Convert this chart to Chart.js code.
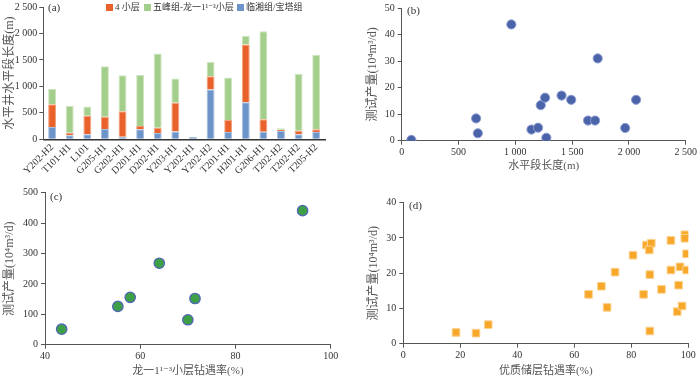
<!DOCTYPE html>
<html><head><meta charset="utf-8">
<script src="https://cdn.jsdelivr.net/npm/chart.js@4.4.1/dist/chart.umd.min.js"></script>
<style>
html,body{margin:0;padding:0;background:#fff;}
#wrap{position:relative;width:700px;height:378px;overflow:hidden;background:#fff;}
canvas{position:absolute;left:0;top:0;}
</style></head><body>
<div id="wrap">
<canvas id="ca" width="700" height="378"></canvas>
<canvas id="cb" width="700" height="378"></canvas>
<canvas id="cc" width="700" height="378"></canvas>
<canvas id="cd" width="700" height="378"></canvas>
</div>
<script>
// ---- data (a) ----
const wells = ['Y202-H2','T101-H1','L101','G205-H1','G202-H1','D201-H1','D202-H1','Y203-H1','Y202-H1','Y202-H2','T201-H1','H201-H1','G206-H1','T202-H2','T202-H2','T205-H2'];
const lenLinxiang = [232,75,94,194,49,189,119,147,45,940,138,700,143,157,94,138];
const len4 = [428,50,351,232,479,62,100,543,0,250,226,1090,234,24,68,51];
const lenWufeng = [290,505,175,954,682,964,1401,460,0,270,806,160,1663,26,1078,1411];
const seriesNames = ['临湘组/宝塔组','4 小层','五峰组-龙一1¹⁻³小层'];
// ---- data (b) ----
const bLength = [85,965,655,670,1142,1200,1224,1262,1273,1407,1492,1640,1702,1725,1967,2063];
const bYield  = [0.3,43.8,8.4,2.8,4.2,4.9,13.4,16.2,1.1,17.0,15.4,7.6,7.6,31.0,4.8,15.4];
// ---- data (c) ----
const cRate  = [43.5,55.3,57.9,64.0,70.0,71.5,94.1];
const cYield = [51,126,156,268,82,152,441];
// ---- data (d) ----
const dRate  = [18.5,25.5,29.8,65.0,69.5,71.5,74.3,80.6,84.3,85.3,87.0,86.3,86.5,86.5,90.6,93.9,93.9,96.6,97.1,96.1,97.8,98.8,98.8,99.4,99.4];
const dYield = [3.2,3.0,5.4,14.0,16.3,10.3,20.3,25.1,14.0,28.0,28.5,26.6,19.6,3.6,15.4,29.3,20.9,16.6,21.8,9.1,10.7,30.9,29.9,25.5,20.9];

const FONT = "'Liberation Serif','Noto Sans CJK SC','DejaVu Serif',serif";
const TICKC = '#333', TITLEC = '#555', AXC = '#555';

function fmt(v){ v = Math.round(v); if (v >= 1000) return Math.floor(v/1000) + ' ' + String(v%1000).padStart(3,'0'); return String(v); }

const panelTag = {
  id:'panelTag',
  afterDraw(chart, args, o){
    if(!o || !o.text) return;
    const ctx = chart.ctx; ctx.save();
    ctx.font = `11px ${FONT}`; ctx.fillStyle = '#333'; ctx.textBaseline = 'middle'; ctx.textAlign='left';
    ctx.fillText(o.text, chart.chartArea.left + o.dx, chart.chartArea.top + o.dy);
    ctx.restore();
  }
};
const barLegend = {
  id:'barLegend',
  afterDraw(chart, args, o){
    if(!o || !o.items) return;
    const ctx = chart.ctx; ctx.save();
    ctx.font = `${o.size}px ${FONT}`; ctx.textBaseline = 'middle'; ctx.textAlign='left';
    o.items.forEach(it => {
      const ds = chart.data.datasets[it.index];
      ctx.fillStyle = ds.backgroundColor; ctx.fillRect(it.x, o.y - 3.5, 7, 7);
      ctx.fillStyle = '#333'; ctx.fillText(ds.label, it.x + 9, o.y);
    });
    ctx.restore();
  }
};
Chart.register(panelTag, barLegend);

const tickFont = {family:FONT, size:10, lineHeight:1};
function axisGrid(){ return {drawOnChartArea:false, drawTicks:true, tickLength:4, color:AXC, lineWidth:1}; }
function axisBorder(){ return {display:true, color:AXC, width:1}; }
const base = {responsive:false, animation:false, devicePixelRatio:1, events:[]};

// ---- (a) stacked bars ----
new Chart(document.getElementById('ca'), {
  type:'bar',
  data:{labels:wells, datasets:[
    {label:seriesNames[0], data:lenLinxiang, backgroundColor:'#6C94C8', borderColor:'#A8C0E1', borderWidth:1},
    {label:seriesNames[1], data:len4, backgroundColor:'#EA622B', borderColor:'#F3A17C', borderWidth:1},
    {label:seriesNames[2], data:lenWufeng, backgroundColor:'#A4CE8B', borderColor:'#CCE5BC', borderWidth:1}
  ]},
  options:Object.assign({}, base, {
    layout:{padding:{left:0, top:6.7, right:375, bottom:188.7}},
    datasets:{bar:{categoryPercentage:1, barPercentage:0.45}},
    plugins:{legend:{display:false}, tooltip:{enabled:false},
      panelTag:{text:'(a)', dx:4.7, dy:1},
      barLegend:{size:9, y:7.5, items:[{index:1,x:106},{index:2,x:144},{index:0,x:237}]}},
    scales:{
      x:{stacked:true, grid:{display:false, drawTicks:false}, border:{display:true, color:'#333', width:1.5},
         ticks:{font:tickFont, color:TICKC, maxRotation:45, minRotation:45, padding:3, autoSkip:false},
         afterFit(s){ s.height = 50; }},
      y:{stacked:true, min:0, max:2500, grid:axisGrid(), border:axisBorder(),
         ticks:{stepSize:500, callback:fmt, font:tickFont, color:TICKC, padding:2},
         title:{display:true, text:'水平井水平段长度(m)', color:TITLEC, font:{family:FONT, size:12}, padding:{top:3, bottom:0}},
         afterFit(s){ s.width = 43.3; }}
    }
  })
});

function scatterChart(id, xs, ys, ds, o){
  return new Chart(document.getElementById(id), {
    type:'scatter',
    data:{datasets:[Object.assign({data:xs.map((x,i)=>({x:x, y:ys[i]}))}, ds)]},
    options:Object.assign({}, base, {
      layout:{padding:o.pad},
      plugins:{legend:{display:false}, tooltip:{enabled:false}, panelTag:o.tag},
      scales:{
        x:{type:'linear', min:o.x[0], max:o.x[1], grid:axisGrid(), border:axisBorder(),
           ticks:{stepSize:o.x[2], callback:fmt, font:tickFont, color:TICKC, padding:3},
           title:{display:true, text:o.xt, color:TITLEC, font:{family:FONT, size:11, lineHeight:1.2}, padding:{top:0, bottom:o.xtp}},
           afterFit(s){ s.height = o.xh; }},
        y:{type:'linear', min:o.y[0], max:o.y[1], grid:axisGrid(), border:axisBorder(),
           ticks:{stepSize:o.y[2], callback:fmt, font:tickFont, color:TICKC, padding:3},
           title:{display:true, text:o.yt, color:TITLEC, font:{family:FONT, size:12}, padding:{top:o.ytp, bottom:0}},
           afterFit(s){ s.width = o.yw; }}
      }
    })
  });
}

// ---- (b) ----
scatterChart('cb', bLength, bYield,
  {pointRadius:4.6, pointBackgroundColor:'#4B63A9', pointBorderColor:'#8E9ED2', pointBorderWidth:1},
  {pad:{left:350, top:5, right:12.3, bottom:202.3}, x:[0,2500,500], y:[0,50,10], xh:35, yw:51.7,
   xt:'水平段长度(m)', xtp:3.1, yt:'测试产量(10⁴m³/d)', ytp:16, tag:{text:'(b)', dx:5.3, dy:3}});

// ---- (c) ----
scatterChart('cc', cRate, cYield,
  {pointRadius:5.2, pointBackgroundColor:'#3DA047', pointBorderColor:'#5266B6', pointBorderWidth:1.3},
  {pad:{left:0, top:192.7, right:369.3, bottom:0}, x:[40,100,20], y:[0,500,100], xh:33.3, yw:45,
   xt:'龙一1¹⁻³小层钻遇率(%)', xtp:0, yt:'测试产量(10⁴m³/d)', ytp:2.8, tag:{text:'(c)', dx:5, dy:4.3}});

// ---- (d) ----
scatterChart('cd', dRate, dYield,
  {pointStyle:'rect', pointRadius:5.4, pointBackgroundColor:'#F7A82A', pointBorderColor:'#FDD393', pointBorderWidth:1},
  {pad:{left:350, top:202.7, right:11.7, bottom:0}, x:[0,100,20], y:[0,40,10], xh:34.3, yw:53.3,
   xt:'优质储层钻遇率(%)', xtp:0, yt:'测试产量(10⁴m³/d)', ytp:16.8, tag:{text:'(d)', dx:5.7, dy:3.3}});
</script>
</body></html>
